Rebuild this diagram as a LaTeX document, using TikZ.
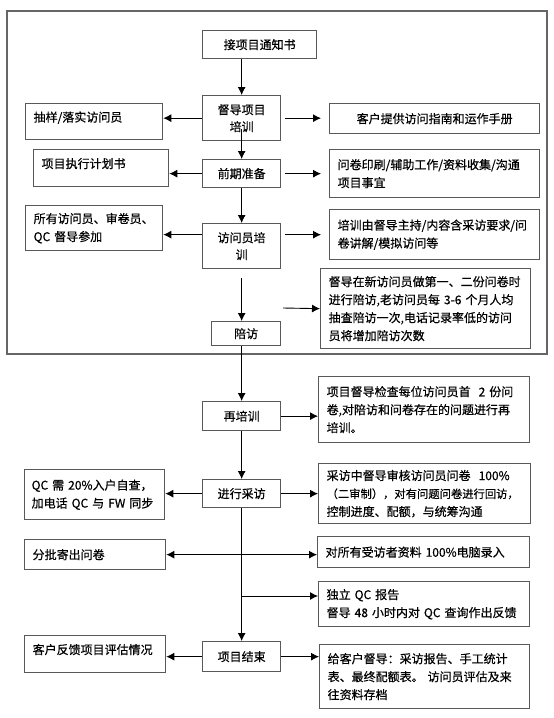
\documentclass[tikz,border=0pt]{standalone}
\usepackage{fontspec}
\setmainfont{Noto Sans CJK SC}[BoldFont={Noto Sans CJK SC}, BoldFeatures={FakeBold=0.5}]
\usetikzlibrary{arrows.meta}

\tikzset{
  kuang/.style={draw=black!65, line width=1.3pt, anchor=north west, inner ysep=2pt, font=\fontsize{12}{18}\selectfont\bfseries},
  zhong/.style={kuang, align=center, inner xsep=7pt, text width=64pt, font=\fontsize{12}{17}\selectfont\bfseries},
  zuo/.style={kuang, align=left, inner xsep=8pt, text width=121pt},
  you/.style={kuang, align=left, inner xsep=8pt, text width=194pt},
  jian/.style={-{Latex[length=8pt,width=8pt]}, line width=0.9pt},
  shuang/.style={{Latex[length=8pt,width=8pt]}-{Latex[length=8pt,width=8pt]}, line width=0.9pt},
  shang/.style={text height=10pt, text depth=10pt},
}

\begin{document}
\begin{tikzpicture}[x=1pt,y=-1pt]
\useasboundingbox (0,0) rectangle (554,718);

% ========= 上：外框（准备阶段）=========
\draw[draw=black!60, line width=1.8pt] (7,11) rectangle (547,354);

% 中轴线 x=241
\node[zhong, text width=100pt, minimum height=28pt] (jie) at (202,30) {接项目通知书};
\node[zhong, minimum height=45pt] (dudao) at (202,95) {督导项目\\培训};
\node[zuo, minimum height=36pt, shang] (chouyang) at (25,103) {抽样/落实访问员};
\node[you, align=center, minimum height=30pt] (kehu) at (329,103) {客户提供访问指南和运作手册};

\node[zhong, minimum height=28pt] (qianqi) at (202,159) {前期准备};
\node[zuo, text width=119pt, minimum height=37pt, shang] (jihua) at (33,149) {项目执行计划书};
\node[you, minimum height=48pt] (yinshua) at (329,149) {问卷印刷/辅助工作/资料收集/沟通\\项目事宜};

\node[zhong, minimum height=45pt] (peixun) at (202,223) {访问员培\\训};
\node[zuo, minimum height=45pt] (suoyou) at (25,205) {所有访问员、审卷员、\\QC 督导参加};
\node[you, minimum height=50pt] (neirong) at (329,209) {培训由督导主持/内容含采访要求/问\\卷讲解/模拟访问等};

\node[zhong, text width=55pt, minimum height=24pt] (peifang) at (211,321) {陪访};
\node[you, minimum height=80pt] (peitong) at (320,268) {督导在新访问员做第一、二份问卷时\\进行陪访,老访问员每 3-6 个月人均\\抽查陪访一次,电话记录率低的访问\\员将增加陪访次数};
\coordinate (pf) at (283,308);

\draw[jian] (dudao.north |- jie.south) -- (dudao.north);
\draw[jian] ([yshift=12pt]dudao.south) -- (qianqi.north);
\draw[jian] (qianqi.south) -- (peixun.north);
\draw[jian] ([yshift=-9pt]peixun.south) -- (peixun.south |- peifang.north);

\draw[jian] (dudao.west) -- (dudao.west -| chouyang.east);
\draw[jian, shorten <=4pt, shorten >=8pt] (dudao.east) -- (dudao.east -| kehu.west);
\draw[jian] (qianqi.west) -- (qianqi.west -| jihua.east);
\draw[jian, shorten <=4pt, shorten >=8pt] (qianqi.east) -- (qianqi.east -| yinshua.west);
\draw[jian] (peixun.west |- neirong.west) -- (suoyou.east |- neirong.west);
\draw[jian, shorten <=4pt, shorten >=8pt] (peixun.east |- neirong.west) -- (neirong.west);
\draw[jian] (pf) -- (peitong.west);

% ========= 下：执行阶段 =========
\node[zhong, minimum height=29pt] (zai) at (202,401) {再培训};
\node[you, text width=195pt, minimum height=66pt] (jiancha) at (318,376) {项目督导检查每位访问员首~~2 份问\\卷,对陪访和问卷存在的问题进行再\\培训。};

\node[zhong, minimum height=28pt] (caifang) at (202,479) {进行采访};
\node[zuo, text width=126pt, inner xsep=7pt, minimum height=50pt] (qc) at (24,469) {QC 需 20\%入户自查，\\加电话 QC 与 FW 同步};
\node[you, text width=196pt, minimum height=60pt] (shenhe) at (318,463) {采访中督导审核访问员问卷~~100\%\\{\fontsize{11.3}{18}\selectfont（二审制），对有问题问卷进行回访，}\\控制进度、配额，与统筹沟通};

\node[zuo, text width=125pt, minimum height=30pt] (fenpi) at (24,539) {分批寄出问卷};
\node[you, text width=196pt, minimum height=31pt] (luru) at (317,536) {对所有受访者资料 100\%电脑录入};
\node[you, text width=195pt, minimum height=45pt] (duli) at (318,581) {独立 QC 报告\\督导 48 小时内对 QC 查询作出反馈};
\coordinate (qcd) at (241,596);

\node[zhong, minimum height=30pt] (jieshu) at (202,641) {项目结束};
\node[zuo, text width=125pt, minimum height=37pt, shang] (fankui) at (24,635) {客户反馈项目评估情况};
\node[you, minimum height=64pt] (gei) at (319,644) {给客户督导：采访报告、手工统计\\表、最终配额表。 访问员评估及来\\往资料存档};

\draw[jian] (peixun.south |- peifang.south) -- (zai.north);
\draw[jian] (zai.south) -- (caifang.north);
\draw[jian] (caifang.south) -- (jieshu.north);

\draw[jian] (zai.east) -- (zai.east -| jiancha.west);
\draw[jian] (caifang.west) -- (caifang.west -| qc.east);
\draw[jian] (caifang.east) -- (caifang.east -| shenhe.west);
\draw[shuang] (fenpi.east) -- (fenpi.east -| luru.west);
\draw[jian] (qcd) -- (qcd -| duli.west);
\draw[jian] (jieshu.west) -- (jieshu.west -| fankui.east);
\draw[jian] (jieshu.east) -- (jieshu.east -| gei.west);
\end{tikzpicture}
\end{document}
